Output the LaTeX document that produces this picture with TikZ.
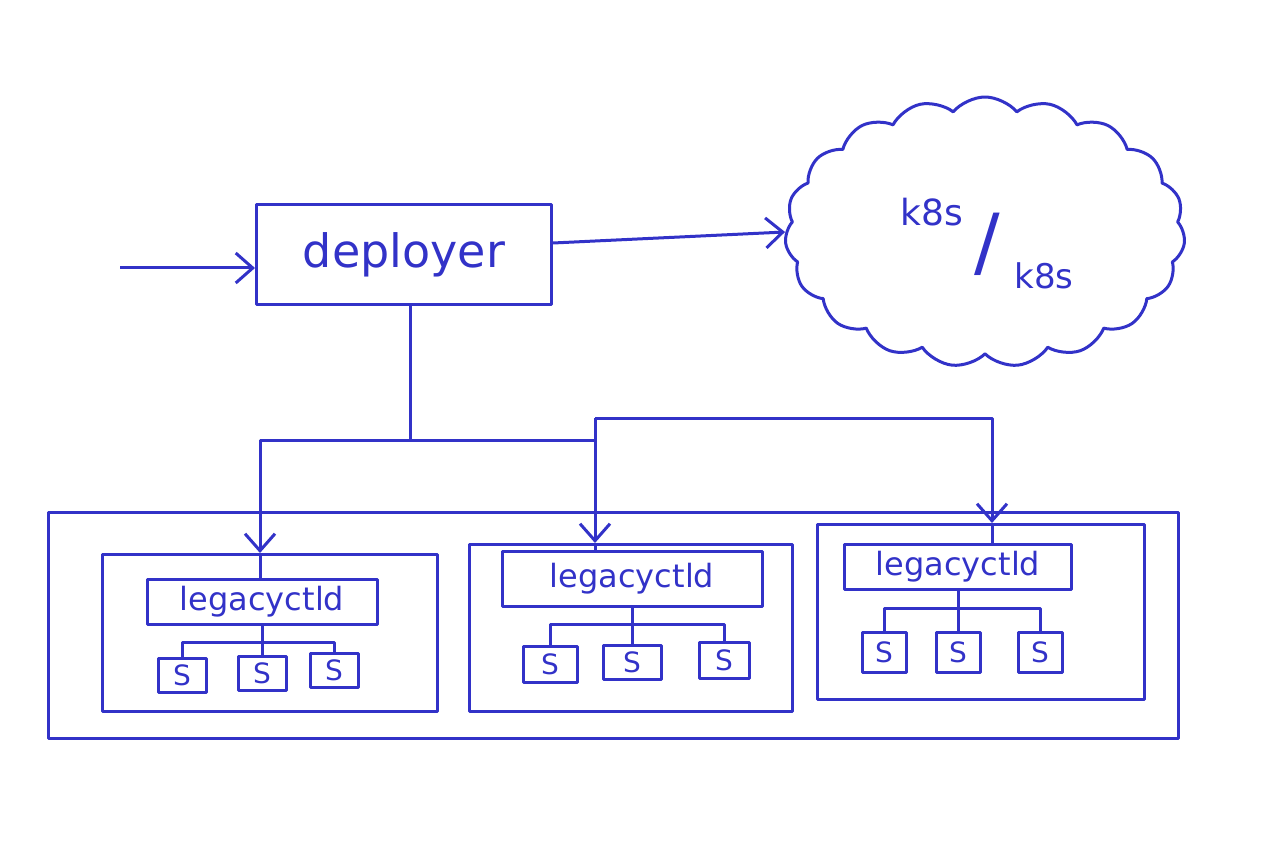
\documentclass[tikz,border=0pt]{standalone}
\usepackage{fontspec}
\setsansfont{DejaVu Sans}
\usetikzlibrary{arrows.meta,shapes.symbols}
\definecolor{ink}{RGB}{50,50,200}

\begin{document}
\begin{tikzpicture}[x=1pt,y=-1pt,>={Straight Barb[length=17pt,width=30pt]},line join=round,
  every path/.style={draw=ink,line width=3pt},
  box/.style={draw=ink,line width=3pt,rectangle,inner sep=0pt},
  hand/.style={text=ink,font=\sffamily\fontsize{#1}{#1}\selectfont},
  sbox/.style={box,minimum width=48,minimum height=34,hand=28},
]
\useasboundingbox[draw=none] (0,0) rectangle (1280,842);
%%
  % Node: deployer
  \node[box,minimum width=295,minimum height=100,hand=46] (dep) at (404,255) {deployer};
  % Node: cloud
  \node[draw=ink,line width=3pt,cloud,cloud puffs=19,cloud puff arc=100,aspect=1.5,
        minimum width=400,minimum height=270] (cloud) at (985,232) {};
  \node[hand=36,inner sep=0pt] (k8sa) at (932,212) {k8s};
  \node[hand=76,inner sep=0pt] (slash) at (987,244) {/};
  \node[hand=34,inner sep=0pt] (k8sb) at (1044,276) {k8s};
  % Node: cluster
  \node[box,minimum width=1130,minimum height=226] (cluster) at (613,625) {};
  % Node: host 1
  \node[box,minimum width=335,minimum height=157] (host1) at (270,633) {};
  \node[box,minimum width=230,minimum height=45,hand=32] (lg1) at (262,602) {legacyctld};
  \node[sbox] (s11) at (182,675) {S};
  \node[sbox] (s12) at (262,673) {S};
  \node[sbox] (s13) at (334,670) {S};
  % Node: host 2
  \node[box,minimum width=323,minimum height=167] (host2) at (631,628) {};
  \node[box,minimum width=260,minimum height=55,hand=32] (lg2) at (632,579) {legacyctld};
  \node[sbox,minimum width=54,minimum height=36] (s21) at (550,664) {S};
  \node[sbox,minimum width=58,minimum height=34] (s22) at (632,662) {S};
  \node[sbox,minimum width=50,minimum height=36] (s23) at (724,660) {S};
  % Node: host 3
  \node[box,minimum width=327,minimum height=175] (host3) at (981,612) {};
  \node[box,minimum width=227,minimum height=45,hand=32] (lg3) at (958,567) {legacyctld};
  \node[sbox,minimum width=44,minimum height=40] (s31) at (884,652) {S};
  \node[sbox,minimum width=44,minimum height=40] (s32) at (958,652) {S};
  \node[sbox,minimum width=44,minimum height=40] (s33) at (1040,652) {S};
%
  % Edge: in -> deployer
  \coordinate (in) at (120,268);
  \draw[->] (in) -- (dep.west |- in);
  % Edge: deployer -> cloud
  \draw[->] (dep.east |- 0,243) -- (cloud.west);
  % Edge: deployer -> hosts
  \coordinate (j) at (410,440);
  \coordinate (m) at (595,418);
  \draw (dep.south -| j) -- (j);
  \draw (m) |- (j);
  \draw[->] (j) -| (host1.north -| 260,0);
  \draw[->] (m) -- (m |- host2.north);
  \draw[->] (m) -| (host3.north -| 992,0);
  \draw (host1.north -| 260,0) -- (lg1.north -| 260,0);
  \draw (m |- host2.north) -- (m |- lg2.north);
  \draw (host3.north -| 992,0) -- (lg3.north -| 992,0);
  % Edge: legacyctld -> S
  \coordinate (t1) at (262,642);
  \draw (lg1) -- (s12);
  \draw (s11) |- (t1) -| (s13);
  \coordinate (t2) at (632,624);
  \draw (lg2) -- (s22);
  \draw (s21) |- (t2) -| (s23);
  \coordinate (t3) at (958,608);
  \draw (lg3) -- (s32);
  \draw (s31) |- (t3) -| (s33);
%
\end{tikzpicture}
\end{document}
